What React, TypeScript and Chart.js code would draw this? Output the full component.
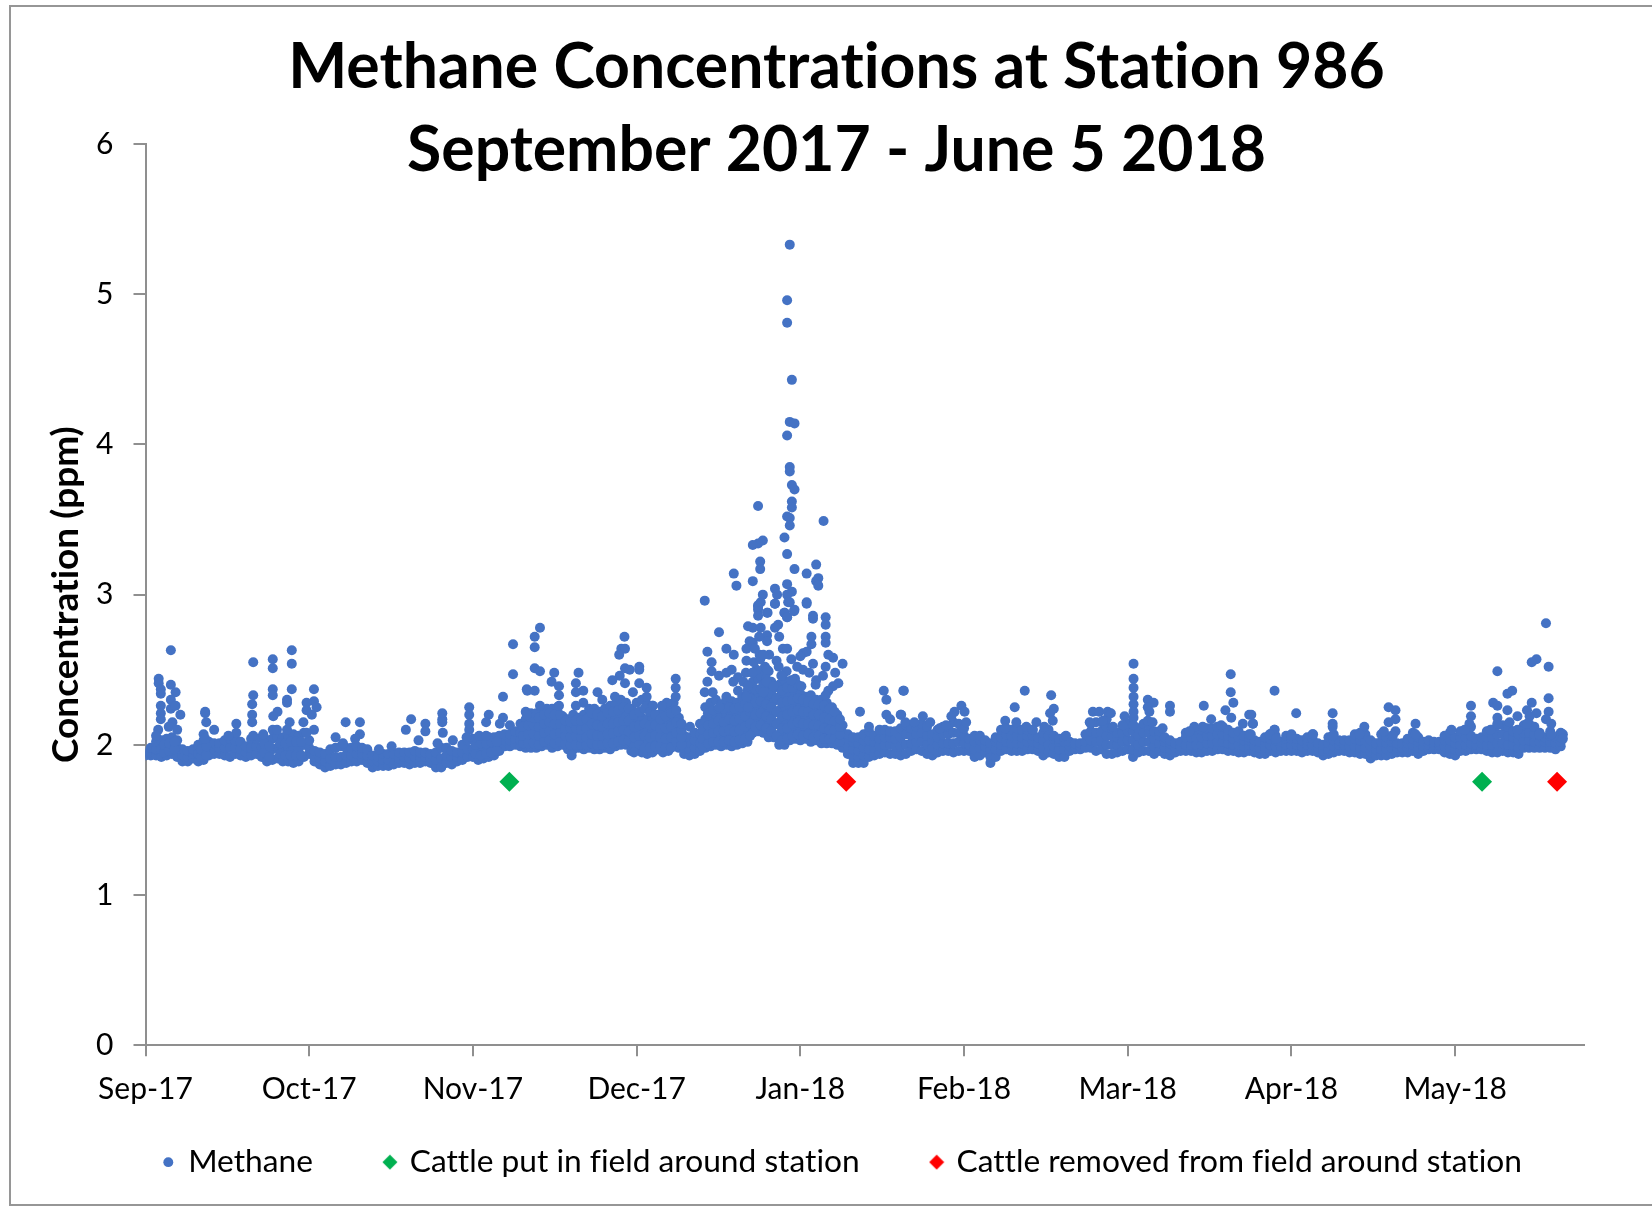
import React, { useEffect, useRef } from "react";
import { Chart, registerables } from "chart.js";

Chart.register(...registerables);

const titleLines = ["Methane Concentrations at Station 986", "September 2017 - June 5 2018"];
const yAxisTitle = "Concentration (ppm)";
const monthLabels = ["Sep-17", "Oct-17", "Nov-17", "Dec-17", "Jan-18", "Feb-18", "Mar-18", "Apr-18", "May-18"];
const seriesNames = ["Methane", "Cattle put in field around station", "Cattle removed from field around station"];
const cattleInDays = [68.9, 253.1];
const cattleOutDays = [132.7, 267.3];
const cattleMarkerLevel = 1.754;

// Each row: day since 1 Sep 2017, then the concentrations read at that day (ppm)
const sepRows = [
  [0,1.93,1.94,1.95],[1,1.93,1.95,1.98],[2,1.93,1.97,2.02],[3,1.92,1.97,2.03],[4,1.93,1.98,2.04],[5,1.94,2.0,2.05],
  [6,1.92,1.98,2.03],[7,1.89,1.93,1.97],[8,1.89,1.92,1.96],[9,1.91,1.94,1.97],[10,1.89,1.94,2.0],[11,1.9,1.96,2.03],
  [12,1.93,1.97,2.02],[13,1.94,1.97,2.01],[14,1.94,1.98,2.01],[15,1.93,1.98,2.03],[16,1.92,1.98,2.04],[17,1.94,1.98,2.03],
  [18,1.93,1.97,2.02],[19,1.92,1.95,1.99],[20,1.93,1.98,2.04],[21,1.94,1.99,2.04],[22,1.92,1.98,2.05],[23,1.89,1.96,2.03],
  [24,1.9,1.97,2.04],[25,1.91,1.98,2.05],[26,1.89,1.97,2.05],[27,1.89,1.98,2.06],[28,1.88,1.97,2.07],[29,1.89,1.97,2.06],[30,1.92,2.0,2.08],
];
const octRows = [
  [31,1.94,1.98,2.03],[32,1.89,1.92,1.96],[33,1.87,1.91,1.95],[34,1.85,1.89,1.94],[35,1.86,1.91,1.97],[36,1.87,1.92,1.98],
  [37,1.87,1.92,1.99],[38,1.88,1.93,1.98],[39,1.89,1.93,1.98],[40,1.89,1.94,1.99],[41,1.9,1.94,1.98],[42,1.88,1.93,1.97],
  [43,1.85,1.89,1.93],[44,1.86,1.89,1.92],[45,1.86,1.9,1.94],[46,1.86,1.9,1.94],[47,1.87,1.9,1.94],[48,1.88,1.91,1.95],
  [49,1.88,1.92,1.95],[50,1.87,1.91,1.95],[51,1.88,1.92,1.96],[52,1.88,1.92,1.95],[53,1.89,1.92,1.95],[54,1.88,1.91,1.94],
  [55,1.85,1.9,1.95],[56,1.85,1.91,1.98],[57,1.88,1.93,1.98],[58,1.87,1.92,1.96],[59,1.89,1.92,1.95],[60,1.9,1.95,2.0],[61,1.92,1.97,2.03],
];
const novRows = [
  [62,1.92,1.97,2.04],[63,1.9,1.97,2.05],[64,1.91,1.97,2.04],[65,1.92,1.98,2.05],[66,1.93,1.99,2.05],[67,1.96,2.01,2.06],
  [68,1.99,2.03,2.07],[69,1.99,2.03,2.07],[70,2.0,2.04,2.09],[71,1.99,2.03,2.08,2.14],[72,1.98,2.04,2.1,2.17,2.22],
  [73,1.98,2.04,2.1,2.16,2.21],[74,1.98,2.03,2.09,2.15,2.21],[75,1.99,2.05,2.11,2.17,2.23],[76,2.0,2.06,2.12,2.18,2.24],
  [77,1.98,2.04,2.1,2.17,2.24],[78,1.99,2.05,2.11,2.18,2.25],[79,2.0,2.05,2.1,2.15,2.19],[80,1.97,2.03,2.08,2.13,2.17],
  [81,1.97,2.03,2.08,2.14,2.2],[82,1.98,2.03,2.08,2.13,2.18],[83,1.97,2.02,2.08,2.14,2.2],[84,1.98,2.04,2.11,2.18,2.24],
  [85,1.97,2.03,2.1,2.17,2.24],[86,1.97,2.03,2.09,2.16,2.22],[87,1.98,2.04,2.11,2.18,2.24],[88,1.97,2.04,2.11,2.18,2.26],
  [89,1.99,2.05,2.12,2.19,2.27],[90,2.0,2.06,2.13,2.2,2.3],[91,2.0,2.06,2.13,2.2,2.28],[92,1.96,2.02,2.09,2.16,2.24],
];
const decRows = [
  [93,1.97,2.03,2.1,2.17,2.28],[94,1.95,2.02,2.1,2.18,2.3],[95,1.94,2.01,2.09,2.17,2.27],[96,1.95,2.02,2.1,2.18,2.26],
  [97,1.97,2.03,2.09,2.15,2.2],[98,1.95,2.01,2.08,2.15,2.24],[99,1.96,2.02,2.09,2.16,2.26],[100,1.99,2.05,2.12,2.19,2.28],
  [101,1.98,2.03,2.08,2.13,2.18],[102,1.94,1.98,2.02,2.06],[103,1.93,1.97,2.01,2.05],[104,1.94,1.98,2.03,2.08],
  [105,1.96,2.01,2.07,2.14],[106,1.98,2.04,2.1,2.17,2.25],[107,1.99,2.05,2.11,2.18,2.28],[108,2.0,2.06,2.13,2.2,2.3],
  [109,1.99,2.05,2.12,2.19,2.27],[110,2.0,2.07,2.14,2.21,2.3],[111,1.99,2.06,2.13,2.2,2.29],[112,2.0,2.07,2.14,2.21,2.28],
  [113,2.01,2.08,2.15,2.22,2.32],[114,2.02,2.1,2.18,2.26,2.36],[115,2.08,2.16,2.24,2.32,2.42],[116,2.09,2.17,2.25,2.33,2.44],
  [117,2.08,2.15,2.23,2.31,2.4,2.48],[118,2.05,2.13,2.21,2.3,2.4,2.49],[119,2.05,2.13,2.21,2.29,2.38],
  [120,2.0,2.07,2.15,2.23,2.32,2.4],[121,2.0,2.07,2.15,2.24,2.33,2.43],[122,2.03,2.1,2.18,2.26,2.34,2.42],[123,2.04,2.11,2.19,2.27,2.35,2.44],
];
const janRows = [
  [124,2.03,2.1,2.18,2.26,2.34],[125,2.04,2.11,2.18,2.26,2.32],[126,2.02,2.09,2.16,2.24,2.33],[127,2.03,2.1,2.17,2.24,2.3],
  [128,2.01,2.08,2.15,2.22,2.3],[129,2.01,2.07,2.14,2.21,2.28],[130,2.01,2.07,2.13,2.19,2.25],[131,2.0,2.05,2.1,2.15,2.2],
  [132,1.98,2.03,2.08,2.13],[133,1.94,1.99,2.04,2.07],[134,1.88,1.92,1.97,2.02,2.05],[135,1.88,1.92,1.96,2.01,2.05],
  [136,1.88,1.93,1.98,2.03,2.07],[137,1.92,1.97,2.03,2.09],[138,1.93,1.98,2.02,2.06],[139,1.94,1.99,2.04,2.1],
  [140,1.95,2.0,2.05,2.1],[141,1.94,2.0,2.05,2.09],[142,1.94,1.99,2.04,2.09],[143,1.93,1.99,2.05,2.11],[144,1.94,2.0,2.07,2.13],
  [145,1.96,2.01,2.06,2.11],[146,1.97,2.02,2.07,2.12],[147,1.96,2.02,2.08,2.14],[148,1.94,2.0,2.06,2.12],[149,1.93,1.98,2.03,2.07],
  [150,1.95,2.0,2.05,2.1],[151,1.96,2.01,2.07,2.12],[152,1.96,2.01,2.07,2.12],[153,1.95,2.01,2.08,2.15],[154,1.96,2.02,2.08,2.14],
];
const febRows = [
  [155,1.96,2.01,2.06,2.11],[156,1.96,2.0,2.04],[157,1.92,1.97,2.02,2.06],[158,1.93,1.98,2.03,2.06],[159,1.95,1.99,2.03],
  [160,1.88,1.92,1.97,2.01],[161,1.92,1.97,2.02,2.05],[162,1.96,2.0,2.05,2.1],[163,1.97,2.02,2.07,2.11],[164,1.96,2.01,2.06,2.1],
  [165,1.96,2.01,2.06,2.11],[166,1.96,2.01,2.05,2.1],[167,1.97,2.02,2.06,2.1],[168,1.97,2.02,2.06,2.1],[169,1.96,2.01,2.05],
  [170,1.93,1.98,2.03,2.08],[171,1.95,2.0,2.06,2.1],[172,1.94,1.99,2.04,2.06],[173,1.92,1.97,2.02,2.04],[174,1.92,1.97,2.02,2.05],
  [175,1.96,1.99,2.02],[176,1.97,1.99,2.01],[177,1.97,1.99,2.01],[178,1.98,2.02,2.07],[179,1.98,2.03,2.09,2.14],
  [180,1.96,2.02,2.08,2.15],[181,1.97,2.03,2.09,2.15],[182,1.94,2.0,2.06,2.12,2.17],[183,1.94,2.0,2.06,2.11],[184,1.95,2.0,2.05,2.08],[185,1.96,2.02,2.08,2.13],
];
const marRows = [
  [186,1.97,2.03,2.09,2.14],[187,1.92,1.97,2.03,2.09],[188,1.95,2.0,2.06,2.11],[189,1.96,2.02,2.08,2.14],[190,1.96,2.02,2.08,2.13],
  [191,1.94,1.99,2.04,2.09],[192,1.96,2.01,2.06,2.09],[193,1.94,1.98,2.02,2.05],[194,1.93,1.97,2.01,2.03],[195,1.95,1.98,2.01],
  [196,1.96,1.99,2.02],[197,1.96,2.0,2.05,2.08],[198,1.96,2.0,2.05,2.09],[199,1.95,2.0,2.05,2.1],[200,1.95,2.0,2.05,2.1],
  [201,1.96,2.01,2.06,2.11],[202,1.96,2.01,2.06,2.11],[203,1.97,2.02,2.07,2.12],[204,1.97,2.02,2.07,2.12],[205,1.96,2.01,2.06,2.1],
  [206,1.96,2.0,2.04,2.08],[207,1.95,2.0,2.05,2.09],[208,1.95,1.99,2.03,2.06],[209,1.96,2.0,2.03,2.05],[210,1.95,1.99,2.03],
  [211,1.94,1.98,2.02],[212,1.94,1.98,2.02,2.05],[213,1.96,2.0,2.04,2.07],[214,1.95,1.99,2.03,2.06],[215,1.96,1.99,2.02],[216,1.96,2.0,2.04,2.06],
];
const aprRows = [
  [217,1.96,2.0,2.04,2.07],[218,1.96,2.0,2.04],[219,1.95,1.99,2.03],[220,1.96,2.0,2.03,2.05],[221,1.96,2.0,2.04,2.07],
  [222,1.95,1.98,2.01],[223,1.93,1.96,2.0],[224,1.94,1.97,2.01,2.05],[225,1.95,1.99,2.03,2.07],[226,1.96,2.0,2.03],[227,1.96,2.0,2.03],
  [228,1.95,1.99,2.03],[229,1.95,1.99,2.04,2.07],[230,1.94,1.98,2.03,2.08],[231,1.94,1.98,2.03,2.07],[232,1.91,1.95,1.99,2.03],
  [233,1.93,1.97,2.01],[234,1.93,1.97,2.02,2.07],[235,1.93,1.97,2.01,2.05],[236,1.94,1.98,2.02,2.06],[237,1.95,1.98,2.01],
  [238,1.95,1.98,2.01],[239,1.95,1.98,2.01,2.04],[240,1.96,2.0,2.04,2.08],[241,1.94,1.98,2.02,2.05],[242,1.96,1.99,2.02],
  [243,1.97,2.0,2.03],[244,1.97,2.0,2.02],[245,1.97,2.0,2.02],[246,1.95,1.99,2.03,2.06],[247,1.94,1.98,2.03,2.08],
];
const mayRows = [
  [248,1.93,1.97,2.01,2.05],[249,1.96,2.0,2.05,2.09],[250,1.96,2.0,2.05,2.1],[251,1.97,2.01,2.06,2.12],[252,1.97,2.0,2.04],
  [253,1.97,2.01,2.05],[254,1.96,2.0,2.05,2.09],[255,1.95,2.0,2.05,2.1],[256,1.95,2.01,2.07,2.13],[257,1.96,2.01,2.07,2.13],
  [258,1.95,2.0,2.06,2.12],[259,1.95,2.0,2.05,2.09],[260,1.94,1.98,2.03,2.07],[261,1.98,2.03,2.08,2.13],[262,1.98,2.03,2.08,2.14],
  [263,1.98,2.02,2.07,2.12],[264,1.98,2.02,2.06,2.08],[265,1.98,2.02,2.05],[266,1.98,2.02,2.06,2.09],[267,1.97,2.01,2.05],[268,1.99,2.02,2.05,2.08],
];
// Readings between the whole days, where the band is solid in the picture
const earlyBetweenRows = [
  [3.5,1.95,2.0],[4.5,1.96,2.01],[5.5,1.97,2.02],[10.5,1.92,1.97],[11.5,1.93,1.99],[22.5,1.95,2.01],[23.5,1.92,1.99],[25.5,1.94,2.01],
  [26.5,1.93,2.01],[27.5,1.93,2.02],[28.5,1.93,2.02],[29.5,1.93,2.02],[62.5,1.94,2.0],[63.5,1.93,2.01],[64.5,1.94,2.01],[65.5,1.95,2.02],[66.5,1.96,2.02],
];
const midBetweenRows = [
  [71.5,2.01,2.06,2.12],[72.5,2.01,2.07,2.13,2.19],[73.5,2.01,2.07,2.13,2.18],[74.5,2.0,2.06,2.12,2.18],[75.5,2.02,2.08,2.14,2.2],[76.5,2.03,2.09,2.15,2.21],
  [77.5,2.01,2.07,2.14,2.2],[78.5,2.02,2.08,2.14,2.2],[79.5,2.01,2.06,2.11,2.16],[80.5,2.0,2.05,2.11,2.15],[81.5,2.0,2.06,2.11,2.16],[82.5,2.0,2.05,2.1,2.16],
  [83.5,2.0,2.05,2.11,2.17],[84.5,2.01,2.07,2.14,2.21],[85.5,2.0,2.06,2.13,2.2],[86.5,2.0,2.06,2.12,2.19],[87.5,2.01,2.07,2.14,2.21],[88.5,2.01,2.08,2.14,2.22],
  [89.5,2.02,2.09,2.15,2.23],[90.5,2.03,2.1,2.16,2.25],[91.5,2.03,2.09,2.16,2.24],[92.5,1.99,2.05,2.12,2.2],[93.5,2.0,2.06,2.13,2.22],[94.5,1.98,2.06,2.14,2.24],
  [95.5,1.98,2.05,2.13,2.22],[96.5,1.99,2.06,2.13,2.2],[97.5,1.99,2.05,2.11,2.17],[98.5,1.98,2.04,2.11,2.19],[99.5,1.98,2.05,2.12,2.21],[100.5,2.02,2.08,2.15,2.23],
  [101.5,2.0,2.05,2.1,2.14],[105.5,1.99,2.04,2.1],[106.5,2.01,2.07,2.13,2.21],[107.5,2.02,2.08,2.14,2.23],[108.5,2.02,2.09,2.16,2.24],[109.5,2.02,2.09,2.15,2.24],
  [110.5,2.03,2.1,2.17,2.25],[111.5,2.02,2.09,2.16,2.24],[112.5,2.03,2.1,2.17,2.25],[113.5,2.04,2.12,2.19,2.27],[114.5,2.06,2.14,2.22,2.31],[115.5,2.12,2.2,2.28,2.37],
  [116.5,2.13,2.21,2.29,2.37,2.46],[117.5,2.11,2.19,2.27,2.35,2.44],[118.5,2.09,2.17,2.25,2.34,2.42],[119.5,2.06,2.14,2.22,2.31,2.39],[120.5,2.03,2.11,2.19,2.28,2.36],
  [121.5,2.04,2.11,2.2,2.29,2.38],[122.5,2.06,2.14,2.22,2.3,2.38],[123.5,2.07,2.15,2.23,2.31,2.4],[124.5,2.06,2.14,2.22,2.3],[125.5,2.07,2.14,2.22,2.29],
  [126.5,2.05,2.13,2.2,2.27],[127.5,2.06,2.13,2.2,2.27],[128.5,2.04,2.11,2.18,2.26],[129.5,2.04,2.1,2.17,2.24],[130.5,2.04,2.1,2.16,2.22],[131.5,2.02,2.07,2.12,2.17],
];

// Individual spikes above the band: [day, ppm]
const sepOctSpikes = [
  [4.8,2.63],[20.4,2.55],[24.1,2.57],[24.1,2.51],[27.7,2.63],[27.7,2.54],[2.5,2.44],[2.5,2.41],[2.9,2.37],[2.9,2.34],[4.8,2.4],[5.7,2.35],
  [4.8,2.3],[4.8,2.24],[5.7,2.26],[2.9,2.26],[2.9,2.21],[2.9,2.17],[2.4,2.1],[2,2.06],[6.6,2.2],[5.1,2.15],[4.4,2.12],[6,2.1],[11.3,2.22],[11.3,2.21],[11.5,2.15],
  [13,2.1],[11,2.07],[11.3,2.04],[17.2,2.14],[17.2,2.08],[15.7,2.06],[20.4,2.33],[20.2,2.27],[20.2,2.2],[20.2,2.15],[20.4,2.06],[22.3,2.07],
  [24.1,2.37],[24.1,2.33],[25,2.22],[24.2,2.19],[24.1,2.1],[24.9,2.1],[26.8,2.3],[26.8,2.28],[27.3,2.15],[26.8,2.1],[27.7,2.37],[31.9,2.37],[31.9,2.29],
  [30.5,2.28],[32.4,2.25],[30.5,2.23],[31.5,2.2],[29.9,2.15],[31.9,2.1],[30.5,2.08],[36,2.05],[37.4,2.01],[37.9,2.15],[40.6,2.15],[40.6,2.07],
  [39.7,2.04],[44.2,1.97],[46.6,1.99],[49.3,2.1],[50.3,2.17],[53,2.14],[53,2.09],[51.7,2.03],[56.2,2.21],[56.2,2.17],[56.2,2.15],[56.3,2.08],[55.3,2.01],
  [58.2,2.03],[61.3,2.25],[61.3,2.2],[61.3,2.14],[61.3,2.1],[60.8,2.05],[65,2.2],[64.5,2.15],[63.2,2.06],[64.5,2.06],[67.7,2.32],[67.7,2.18],[67.1,2.14],
  [69,2.13],[69.6,2.67],[69.6,2.47],[72.2,2.37],[72.2,2.2],
];
const novDecSpikes = [
  [74.7,2.78],[73.7,2.72],[73.7,2.65],[73.7,2.51],[74.7,2.49],[72.3,2.36],[73.7,2.36],[74.7,2.26],[77.4,2.48],[76.9,2.42],[78.3,2.39],[78.3,2.33],
  [78.3,2.26],[82,2.48],[81.5,2.41],[82.9,2.36],[81.5,2.35],[82.9,2.28],[81.5,2.26],[85.6,2.35],[86.5,2.3],[90.7,2.72],[90.1,2.64],[90.8,2.64],
  [89.7,2.6],[90.8,2.51],[91.7,2.5],[93.5,2.52],[93.5,2.5],[89.8,2.46],[88.4,2.43],[90.8,2.41],[93.5,2.41],[92.3,2.35],[94.9,2.38],[88.9,2.32],
  [94.9,2.32],[100.4,2.44],[100.4,2.38],[100.4,2.32],[98.7,2.28],[97.8,2.26],[96.1,2.26],[103.1,2.12],[80.7,1.93],[92.5,1.95],
  [105.9,2.96],[108.6,2.75],[106.4,2.62],[110,2.64],[111.4,2.6],[107.2,2.55],[107.2,2.49],[111,2.5],[106.4,2.42],[108.6,2.46],[110,2.48],[113.7,2.48],
  [112.2,2.45],[111.3,2.42],[113.2,2.42],[114.1,2.39],[112.2,2.36],[105.9,2.35],[107.4,2.35],[110,2.32],[113.8,2.32],[114.1,2.25],[108.7,2.25],
];
const peakSpikes = [
  [122,5.33],[121.5,4.96],[121.5,4.81],[122.4,4.43],[122,4.15],[122.9,4.14],[121.5,4.06],[122,3.85],[122,3.82],[122.4,3.73],[122.9,3.7],[122.4,3.62],
  [122.4,3.58],[121.5,3.52],[122,3.51],[122,3.46],[116,3.59],[128.4,3.49],[121,3.38],[121.5,3.27],[116.9,3.36],[116,3.34],[115,3.33],[116.4,3.22],
  [116.4,3.17],[111.4,3.14],[111.9,3.06],[115,3.09],[122.9,3.17],[125.2,3.14],[127,3.2],[127.4,3.11],[127,3.09],[127.4,3.06],[119.2,3.04],[121.5,3.07],
  [122.4,3.02],[116.9,3],[119.6,3],[119.2,2.94],[121.5,3],[122,2.95],[125.2,2.94],[116,2.93],[116,2.9],[117.8,2.88],[122.9,2.9],[121,2.88],[121.5,2.85],
  [116,2.86],[126.4,2.86],[128.8,2.85],[114.1,2.79],[115,2.78],[116.5,2.78],[116,2.92],[116.5,2.95],[117.7,2.88],[119.2,2.94],[121.7,2.95],[121,2.88],
  [121.5,2.85],[122.8,2.89],[125.2,2.95],[126.4,2.84],[128.8,2.8],[128.8,2.72],[128.8,2.68],[126.1,2.72],[126.1,2.67],[125.2,2.62],[124.5,2.61],[119.8,2.8],
  [119.2,2.78],[117.7,2.73],[117.7,2.69],[120,2.72],[120.7,2.64],[121.5,2.64],[114.4,2.69],[113.8,2.64],[115,2.68],[115.4,2.64],[113.8,2.56],[116.3,2.6],
  [117.3,2.52],[115.7,2.5],[119.5,2.56],[117.7,2.5],[122.3,2.57],[124,2.59],[129.3,2.6],[130.2,2.58],[132,2.54],[126.4,2.54],[128.8,2.52],[124.5,2.5],
  [125.7,2.48],[130.6,2.48],[128.3,2.46],[127,2.43],[131.2,2.41],[130.2,2.39],[129.3,2.36],[128.8,2.33],[124.2,2.39],[121.4,2.49],[120.4,2.46],[122.3,2.43],
  [117.6,2.42],[118.9,2.39],[117,2.35],[115.2,2.55],[116.4,2.57],[118.1,2.6],[119.9,2.52],[123.4,2.52],[126.9,2.4],[117,2.6],[114.9,2.48],[116.2,2.72],
];
const janMarSpikes = [
  [135.3,2.22],[139.8,2.36],[143.5,2.36],[140.3,2.3],[140.3,2.2],[143,2.2],[141,2.17],[137,2.12],[143.6,2.36],[143.1,2.2],[166.5,2.36],[164.6,2.25],
  [171.5,2.33],[172,2.24],[171.3,2.21],[171.8,2.16],[170.2,2.12],[154.5,2.26],[155.1,2.22],[153.2,2.22],[152.6,2.19],[155.4,2.15],[147.2,2.19],[148.6,2.15],
  [143.9,2.15],[145.6,2.15],[150.4,2.11],[151.6,2.13],[162.8,2.16],[162.8,2.11],[164.9,2.15],[166.8,2.12],[168.7,2.15],[168,2.1],[187.1,2.54],[187.1,2.44],
  [187.1,2.38],[187.1,2.32],[187.1,2.27],[187.1,2.22],[187.1,2.18],[187.1,2.13],[189.8,2.3],[190.9,2.28],[189.8,2.25],[190.1,2.22],[189.8,2.16],[190.7,2.15],
  [192.6,2.11],[194,2.26],[194,2.22],[205.5,2.47],[205.5,2.35],[206,2.28],[204.5,2.23],[205.6,2.18],[209,2.2],[209.7,2.14],[207.8,2.14],[209,2.07],
  [213.8,2.36],[213.8,2.1],[213.1,2.07],[217.9,2.21],[200.4,2.26],[201.8,2.17],[198.6,2.12],[200.2,2.12],[203.7,2.13],[197.7,2.09],[179.4,2.22],[180.6,2.22],
  [182.2,2.22],[182.8,2.21],[178.8,2.15],[181.3,2.16],[183.2,2.12],[185.4,2.19],[185.1,2.13],[174.3,2.06],
];
const aprMaySpikes = [
  [209.4,2.2],[209.7,2.14],[209.3,2.07],[213.8,2.1],[212.9,2.07],[214.1,2.04],[224.8,2.21],[224.8,2.14],[224.8,2.12],[224.8,2.06],[217,2.06],[221.1,2.07],
  [230.8,2.12],[229.9,2.07],[234.5,2.09],[235.4,2.25],[236.7,2.23],[236.7,2.17],[235.4,2.15],[236.7,2.09],[236.2,2.06],[240.5,2.14],[240.5,2.07],[247.3,2.1],
  [251,2.26],[251,2.19],[250.7,2.14],[249.8,2.1],[254.7,2.1],[255.2,2.28],[256,2.26],[256,2.49],[257.9,2.34],[258.8,2.36],[257.9,2.23],[256,2.18],[256,2.14],
  [259.8,2.19],[258.3,2.15],[259.8,2.1],[263.4,2.57],[262.5,2.55],[265.2,2.81],[265.7,2.52],[265.7,2.31],[265.7,2.22],[262.5,2.28],[261.6,2.23],[263.4,2.21],
  [262.1,2.19],[261.6,2.14],[265.2,2.17],[266.2,2.14],[263.9,2.07],[266.2,2.07],[268.4,2.07],[268.4,2.04],
];

const allRows = [...sepRows, ...octRows, ...novRows, ...decRows, ...janRows, ...febRows, ...marRows, ...aprRows, ...mayRows, ...earlyBetweenRows, ...midBetweenRows];
const allSpikes = [...sepOctSpikes, ...novDecSpikes, ...peakSpikes, ...janMarSpikes, ...aprMaySpikes];

const methanePoints = [
  ...allRows.flatMap(([d, ...vals]) => vals.map((v) => ({ x: d, y: v }))),
  ...allSpikes.map(([d, v]) => ({ x: d, y: v })),
];

const AXIS_GREY = "#8f8f8f";
const FONT = "Lato, Carlito, Calibri, sans-serif";

function legendDiamond(color: string) {
  const c = document.createElement("canvas");
  c.width = 16;
  c.height = 16;
  const g = c.getContext("2d") as CanvasRenderingContext2D;
  g.fillStyle = color;
  g.beginPath();
  g.moveTo(8, 0.5);
  g.lineTo(15.5, 8);
  g.lineTo(8, 15.5);
  g.lineTo(0.5, 8);
  g.closePath();
  g.fill();
  return c;
}

export default function App() {
  const ref = useRef<HTMLCanvasElement | null>(null);
  useEffect(() => {
    const adjust = {
      id: "frameAndShift",
      beforeDraw(chart: any) {
        const { ctx, width, height } = chart;
        ctx.textRendering = "optimizeSpeed";
        ctx.save();
        ctx.fillStyle = "#ffffff";
        ctx.fillRect(0, 0, width, height);
        ctx.strokeStyle = "#969696";
        ctx.lineWidth = 2;
        ctx.strokeRect(10, 6, width, height - 7);
        ctx.restore();
      },
      afterLayout(chart: any) {
        chart.titleBlock.left += 22.5;
        chart.titleBlock.right += 22.5;
        chart.legend.left += 28;
        chart.legend.right += 28;
        chart.legend.top -= 4;
        chart.legend.bottom -= 4;
        chart.scales.x.bottom += 50;
      },
    };
    const chart = new Chart(ref.current as HTMLCanvasElement, {
      type: "scatter",
      plugins: [adjust],
      data: {
        datasets: [
          {
            label: seriesNames[0],
            data: methanePoints,
            backgroundColor: "#4472C4",
            borderColor: "#4472C4",
            borderWidth: 0,
            pointRadius: 5,
            pointStyle: "circle",
          },
          {
            label: seriesNames[1],
            data: cattleInDays.map((d) => ({ x: d, y: cattleMarkerLevel })),
            backgroundColor: "#00B050",
            borderColor: "#00B050",
            borderWidth: 0,
            pointRadius: 10,
            pointStyle: "rectRot",
          },
          {
            label: seriesNames[2],
            data: cattleOutDays.map((d) => ({ x: d, y: cattleMarkerLevel })),
            backgroundColor: "#FF0000",
            borderColor: "#FF0000",
            borderWidth: 0,
            pointRadius: 10,
            pointStyle: "rectRot",
          },
        ],
      },
      options: {
        responsive: false,
        animation: false,
        layout: { autoPadding: false, padding: { left: 44, right: 68, top: 0, bottom: 14 } },
        plugins: {
          title: {
            display: true,
            text: titleLines,
            color: "#000000",
            font: { family: FONT, size: 62.5, weight: "bold", lineHeight: 1.33 },
            padding: { top: 26, bottom: -48.25 },
          },
          legend: {
            position: "bottom",
            labels: {
              usePointStyle: true,
              boxWidth: 8,
              boxHeight: 7,
              padding: 73,
              color: "#000000",
              font: { family: FONT, size: 31.7 },
              generateLabels(c: any) {
                const items = (Chart as any).defaults.plugins.legend.labels.generateLabels(c);
                items[1].pointStyle = legendDiamond("#00B050");
                items[2].pointStyle = legendDiamond("#FF0000");
                return items;
              },
            },
          },
          tooltip: { enabled: false },
        },
        scales: {
          x: {
            type: "linear",
            min: 0,
            max: 272.4,
            afterFit(s: any) {
              s.height = 32;
            },
            ticks: {
              stepSize: 31,
              includeBounds: false,
              autoSkip: false,
              maxRotation: 0,
              padding: 15,
              color: "#000000",
              font: { family: FONT, size: 30 },
              callback: (_v: any, i: number) => monthLabels[i] ?? "",
            },
            grid: { drawOnChartArea: false, drawTicks: true, tickLength: 11, color: AXIS_GREY, lineWidth: 2 },
            border: { color: AXIS_GREY, width: 2 },
          },
          y: {
            min: 0,
            max: 6,
            afterFit(s: any) {
              s.width = 101.5;
            },
            ticks: {
              stepSize: 1,
              padding: 20,
              color: "#000000",
              font: { family: FONT, size: 30 },
            },
            title: {
              display: true,
              text: yAxisTitle,
              color: "#000000",
              padding: { top: 0, bottom: 0 },
              font: { family: FONT, size: 37, weight: "bold" },
            },
            grid: { drawOnChartArea: false, drawTicks: true, tickLength: 12, color: AXIS_GREY, lineWidth: 2 },
            border: { color: AXIS_GREY, width: 2 },
          },
        },
      },
    } as any);
    return () => chart.destroy();
  }, []);
  return (
    <canvas
      ref={ref}
      width={1652}
      height={1206}
      style={{ position: "fixed", left: 0, top: 0, width: 1652, height: 1206, display: "block" }}
    />
  );
}
